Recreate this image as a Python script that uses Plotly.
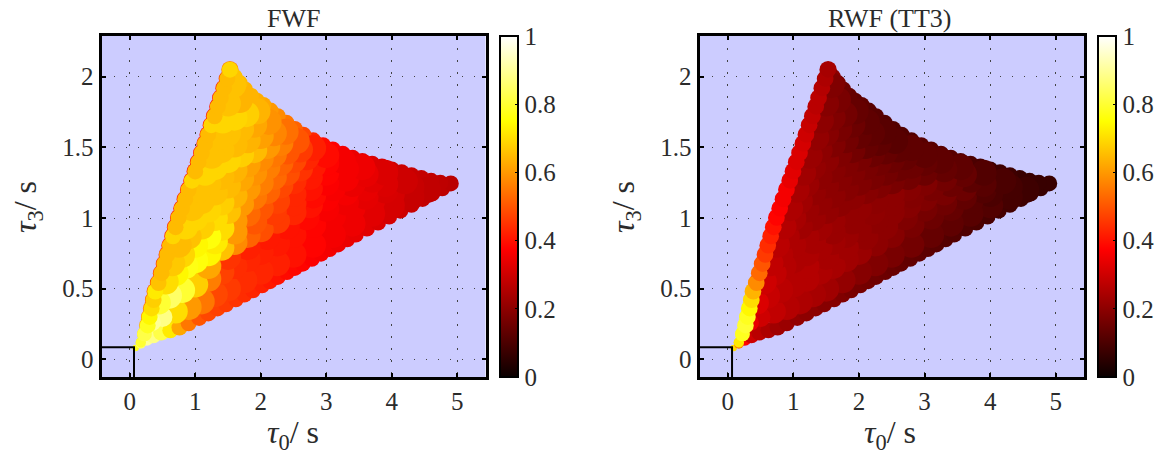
import numpy as np
import plotly.graph_objects as go

# Template bank points (rows run up and to the right).
# Filling points, drawn over the rim with the larger dot.
inner_tau0 = [
    .35,.5,.7,.9,1.1,1.3,1.5,1.75,2,2.25,2.5,2.8,3.1,3.4,3.7,4,4.3,4.55,
    .45,.6,.8,1,1.2,1.4,1.6,1.8,2,2.25,2.5,2.8,3.1,3.4,3.7,4,4.3,
    1.2,1.5,1.8,2.1,2.4,2.7,3,3.3,3.6,3.9,
    .55,.7,.85,1,1.2,1.4,1.6,1.8,2,2.25,2.5,2.75,3,3.3,3.6,3.9,4.2,
    1.3,1.6,1.9,2.2,2.5,2.8,3.1,3.4,3.7,
    .65,.8,1,1.2,1.4,1.6,1.8,2,2.25,2.5,2.75,3,3.3,3.6,3.9,
    .75,.9,1.1,1.3,1.5,1.7,1.9,2.1,2.3,2.5,2.75,3,3.3,3.55,
    .85,1,1.2,1.4,1.6,1.8,2,2.2,2.4,2.6,2.8,3,3.25,
    .95,1.1,1.3,1.5,1.7,1.9,2.1,2.3,2.5,2.7,3,
    1.05,1.2,1.4,1.6,1.8,2,2.2,2.4,2.6,2.8,
    1.15,1.3,1.5,1.7,1.9,2.1,2.3,2.55,
    1.25,1.4,1.6,1.8,2,2.2,2.38,
    1.35,1.5,1.7,1.9,2.12,
    1.42,1.6,1.78,1.95,
    1.5,1.68,
    1.58,
]
inner_tau3 = [
    .26,.30,.34,.37,.41,.46,.50,.56,.62,.68,.74,.81,.88,.96,1.03,1.09,1.15,1.20,
    .40,.45,.49,.53,.57,.62,.66,.71,.76,.82,.88,.95,1.01,1.07,1.12,1.17,1.22,
    .66,.725,.795,.865,.94,1.005,1.065,1.11,1.15,1.195,
    .55,.61,.66,.70,.75,.79,.83,.88,.92,.98,1.04,1.09,1.14,1.18,1.21,1.24,1.26,
    .835,.905,.975,1.04,1.105,1.16,1.21,1.24,1.27,
    .68,.74,.81,.87,.93,.98,1.03,1.07,1.12,1.17,1.21,1.25,1.28,1.31,1.32,
    .81,.87,.94,1.0,1.05,1.10,1.15,1.19,1.23,1.26,1.29,1.32,1.345,1.36,
    .94,1.0,1.06,1.11,1.16,1.21,1.25,1.29,1.32,1.35,1.37,1.39,1.405,
    1.07,1.12,1.18,1.23,1.28,1.32,1.36,1.39,1.41,1.43,1.445,
    1.20,1.24,1.29,1.34,1.38,1.42,1.45,1.47,1.485,1.495,
    1.32,1.36,1.41,1.45,1.48,1.51,1.53,1.545,
    1.44,1.48,1.52,1.55,1.58,1.60,1.61,
    1.57,1.60,1.63,1.66,1.68,
    1.69,1.71,1.735,1.755,
    1.81,1.835,
    1.94,
]
inner_fwf = [
    .90,.88,.70,.60,.55,.48,.46,.44,.43,.42,.40,.38,.36,.35,.33,.31,.29,.28,
    .80,.85,.80,.68,.56,.47,.44,.43,.42,.41,.40,.38,.36,.35,.33,.31,.29,
    .62,.45,.42,.41,.40,.385,.365,.35,.335,.315,
    .70,.74,.77,.76,.74,.66,.58,.52,.49,.46,.43,.40,.37,.36,.34,.32,.30,
    .72,.60,.50,.46,.43,.39,.365,.345,.33,
    .67,.69,.74,.76,.70,.60,.53,.50,.47,.43,.40,.37,.36,.34,.32,
    .65,.66,.68,.70,.66,.60,.55,.52,.48,.44,.41,.38,.36,.35,
    .69,.69,.69,.68,.64,.60,.56,.53,.49,.45,.41,.38,.36,
    .66,.66,.66,.65,.62,.59,.56,.52,.48,.43,.39,
    .66,.66,.65,.64,.61,.58,.55,.50,.46,.42,
    .69,.69,.69,.68,.65,.60,.56,.50,
    .66,.66,.65,.64,.61,.57,.54,
    .66,.66,.65,.62,.59,
    .69,.69,.68,.64,
    .66,.64,
    .66,
]
inner_rwf = [
    .34,.30,.28,.26,.25,.24,.23,.21,.19,.18,.17,.16,.14,.13,.12,.11,.09,.08,
    .32,.29,.27,.26,.26,.25,.24,.23,.22,.20,.19,.17,.15,.14,.12,.10,.09,
    .26,.24,.23,.21,.20,.18,.165,.155,.135,.11,
    .30,.28,.26,.25,.25,.24,.23,.22,.21,.20,.20,.19,.18,.17,.15,.12,.10,
    .24,.22,.21,.205,.20,.185,.17,.15,.125,
    .28,.26,.25,.24,.23,.22,.21,.21,.20,.20,.19,.18,.16,.14,.11,
    .27,.25,.23,.22,.21,.20,.20,.19,.18,.17,.16,.15,.14,.13,
    .26,.24,.22,.21,.20,.19,.18,.17,.16,.15,.15,.14,.13,
    .25,.23,.21,.20,.19,.18,.17,.16,.15,.14,.13,
    .24,.22,.20,.19,.18,.17,.15,.14,.13,.13,
    .23,.21,.20,.18,.16,.14,.13,.12,
    .22,.20,.18,.16,.14,.13,.12,
    .21,.19,.17,.15,.13,
    .20,.18,.16,.14,
    .19,.17,
    .18,
]
# how many of the points above belong to each row
row_lengths = [18, 17, 10, 17, 9, 15, 14, 13, 11, 10, 8, 7, 5, 4, 2, 1]

# Rim of the bank under the filling: lower edge, then upper right edge.
rim_tau0 = [
    .09,.17,.26,.36,.48,.62,.76,.90,1.06,1.2,1.34,1.47,1.62,1.75,1.88,2.02,2.14,2.26,
    2.4,2.52,2.64,2.78,2.92,3.05,3.18,3.32,3.45,3.62,3.79,3.96,4.13,4.3,4.47,4.62,4.77,4.9,
    4.74,4.6,4.45,4.3,4.15,4.0,3.85,3.7,3.55,3.4,3.25,3.1,2.95,2.8,2.65,2.52,2.39,2.26,
    2.15,2.04,1.94,1.85,1.76,1.68,1.6,
]
rim_tau3 = [
    .08,.11,.145,.17,.19,.205,.225,.255,.293,.325,.36,.39,.425,.458,.489,.524,.553,.583,
    .618,.647,.677,.712,.748,.78,.813,.85,.883,.925,.968,1.01,1.052,1.093,1.135,1.175,1.21,1.245,
    1.25,1.263,1.283,1.303,1.324,1.344,1.364,1.384,1.404,1.427,1.455,1.485,1.515,1.55,1.59,1.63,1.675,1.72,
    1.76,1.80,1.83,1.865,1.91,1.955,2.0,
]
rim_fwf = [
    .78,.86,.90,.88,.82,.72,.62,.55,.50,.48,.47,.46,.45,.44,.43,.42,.41,.40,
    .39,.385,.38,.37,.365,.36,.35,.345,.34,.33,.32,.31,.30,.29,.285,.28,.275,.27,
    .275,.28,.285,.29,.295,.30,.31,.32,.33,.345,.36,.375,.39,.43,.48,.52,.55,.58,
    .60,.62,.63,.64,.64,.65,.66,
]
rim_rwf = [
    .70,.55,.38,.30,.27,.25,.23,.22,.21,.20,.20,.19,.19,.18,.17,.165,.16,.155,
    .15,.145,.14,.135,.13,.125,.12,.115,.11,.105,.10,.095,.09,.085,.08,.075,.07,.07,
    .07,.07,.07,.08,.08,.08,.09,.10,.11,.12,.12,.12,.12,.11,.11,.11,.11,.12,
    .12,.13,.13,.14,.15,.17,.20,
]

# Left edge, drawn last from the bottom corner up to the tip.
left_tau0 = [
    .17,.225,.275,.305,.335,.365,.39,.44,.486,.53,.573,.615,.66,.70,.747,.797,
    .848,.90,.95,1.0,1.05,1.10,1.15,1.197,1.246,1.295,1.346,1.39,1.44,1.49,1.53,
]
left_tau3 = [
    .12,.18,.24,.30,.36,.42,.48,.54,.61,.675,.74,.805,.871,.935,1.002,1.067,
    1.133,1.2,1.264,1.33,1.395,1.46,1.526,1.59,1.657,1.72,1.788,1.85,1.919,1.985,2.05,
]
left_fwf = [
    .80,.82,.78,.74,.70,.68,.72,.66,.65,.65,.65,.65,.69,.65,.65,.65,
    .65,.65,.69,.65,.65,.65,.65,.65,.69,.65,.65,.65,.65,.65,.69,
]
left_rwf = [
    .72,.78,.80,.78,.74,.70,.64,.58,.53,.50,.46,.44,.42,.40,.38,.37,
    .36,.36,.34,.33,.32,.32,.31,.30,.29,.28,.27,.27,.26,.25,.24,
]
# the thin darker line that peeks out along the left edge of the FWF panel
edge_fwf = [
    .74,.70,.64,.60,.56,.54,.52,.50,.48,.47,.46,.45,.44,.44,.44,.43,
    .43,.43,.42,.42,.42,.42,.42,.42,.42,.42,.42,.43,.44,.48,.58,
]
assert len(inner_tau0) == len(inner_tau3) == len(inner_fwf) == len(inner_rwf) == sum(row_lengths), (
    len(inner_tau0), len(inner_tau3), len(inner_fwf), len(inner_rwf), sum(row_lengths))
assert len(rim_tau0) == len(rim_tau3) == len(rim_fwf) == len(rim_rwf), (
    len(rim_tau0), len(rim_tau3), len(rim_fwf), len(rim_rwf))
assert len(left_tau0) == len(left_tau3) == len(left_fwf) == len(left_rwf) == len(edge_fwf), (
    len(left_tau0), len(left_tau3), len(left_fwf), len(left_rwf), len(edge_fwf))

# Corner box at the origin
box_tau0 = [-0.43, 0.066, 0.066]
box_tau3 = [0.085, 0.085, -0.125]

x_ticks = [0, 1, 2, 3, 4, 5]
y_ticks = [0, 0.5, 1, 1.5, 2]
y_labels = ["0", "0.5", "1", "1.5", "2"]
cbar_ticks = [0, 0.2, 0.4, 0.6, 0.8, 1]
cbar_labels = ["0", "0.2", "0.4", "0.6", "0.8", "1"]

W, H = 1168, 454
FONT = "Liberation Serif"
TEXT = "#2b2b2b"
# matlab's hot
HOT = [[0, "#0a0000"], [0.375, "#ff0000"], [0.75, "#ffff00"], [1, "#ffffff"]]

# each row paints right to left, so its left end lands on top as a round cap
draw_order = []
start = 0
for n in row_lengths:
    draw_order += list(range(start + n - 1, start - 1, -1))
    start += n


def dot_sizes(t0, t3, r_max, growth):
    # dots shrink into the narrow corner at the origin
    d = np.hypot((np.array(t0) - 0.07) * 65.5, (np.array(t3) - 0.06) * 141.3)
    return 2 * np.minimum(r_max, 2.5 + growth * d)


def dots(x, y, xa, ya, values, caxis, sizes):
    return go.Scatter(
        x=x, y=y, xaxis=xa, yaxis=ya, mode="markers",
        marker=dict(color=values, coloraxis=caxis, size=sizes, line_width=0, opacity=1),
        hoverinfo="skip"
    )


def add_panel(fig, xa, ya, inner, rim, left, edge, caxis):
    fig.add_trace(dots(left_tau0, left_tau3, xa, ya, edge, caxis, dot_sizes(left_tau0, left_tau3, 8.7, 0.25)))
    fig.add_trace(dots(rim_tau0, rim_tau3, xa, ya, rim, caxis, dot_sizes(rim_tau0, rim_tau3, 8, 0.25)))
    x = np.array(inner_tau0)[draw_order]
    y = np.array(inner_tau3)[draw_order]
    fig.add_trace(dots(x, y, xa, ya, np.array(inner)[draw_order], caxis, dot_sizes(x, y, 13, 0.17)))
    fig.add_trace(dots(left_tau0, left_tau3, xa, ya, left, caxis, dot_sizes(left_tau0, left_tau3, 8, 0.25)))
    fig.add_trace(go.Scatter(
        x=box_tau0, y=box_tau3, xaxis=xa, yaxis=ya, mode="lines",
        line=dict(color="black", width=2), hoverinfo="skip"
    ))


fig = go.Figure()
add_panel(fig, "x", "y", inner_fwf, rim_fwf, left_fwf, edge_fwf, "coloraxis")
add_panel(fig, "x2", "y2", inner_rwf, rim_rwf, left_rwf, left_rwf, "coloraxis2")


def x_axis(left, right, anchor):
    return dict(
        domain=[left / W, right / W], anchor=anchor, range=[-0.43, 5.43],
        tickvals=x_ticks, ticks="inside", ticklen=4, tickwidth=2, tickcolor="black",
        showline=True, linecolor="black", linewidth=3, mirror="ticks",
        showgrid=True, gridcolor="#444444", griddash="1.5px 10.5px", gridwidth=1,
        zeroline=False, tickfont=dict(family=FONT, size=25, color=TEXT),
    )


def y_axis(anchor):
    return dict(
        domain=[(H - 377) / H, (H - 36) / H], anchor=anchor, range=[-0.125, 2.288],
        tickvals=y_ticks, ticktext=y_labels, ticks="inside", ticklen=4, tickwidth=2, tickcolor="black",
        showline=True, linecolor="black", linewidth=3, mirror="ticks",
        showgrid=True, gridcolor="#444444", griddash="1.5px 10.5px", gridwidth=1,
        zeroline=False, tickfont=dict(family=FONT, size=25, color=TEXT),
    )


def color_axis(left):
    return dict(
        colorscale=HOT, cmin=0, cmax=1,
        colorbar=dict(
            x=left / W, xanchor="left", xpad=0, ypad=0, thickness=18,
            lenmode="pixels", len=341, y=(H - 377) / H, yanchor="bottom",
            outlinecolor="black", outlinewidth=2,
            tickvals=cbar_ticks, ticktext=cbar_labels, ticks="inside", ticklen=4,
            tickcolor="black", tickwidth=1,
            tickfont=dict(family=FONT, size=25, color=TEXT),
        ),
    )


def label(text, x, y, size=24, angle=0):
    return dict(
        text=text, x=x / W, y=1 - y / H, xref="paper", yref="paper", showarrow=False,
        textangle=angle, xanchor="center", yanchor="middle",
        font=dict(family=FONT, size=size, color=TEXT),
    )


fig.update_layout(
    width=W, height=H, margin=dict(l=0, r=0, t=0, b=0),
    paper_bgcolor="white", plot_bgcolor="#ccccff", showlegend=False,
    xaxis=x_axis(101.5, 485.5, "y"), yaxis=y_axis("x"),
    xaxis2=x_axis(699.5, 1084, "y2"), yaxis2=y_axis("x2"),
    coloraxis=color_axis(500), coloraxis2=color_axis(1098),
    annotations=[
        label("FWF", 293, 19, 26),
        label("RWF (TT3)", 890, 19, 26),
        label("<i>τ</i><sub>0</sub>/ s", 293, 434, 32),
        label("<i>τ</i><sub>0</sub>/ s", 890, 434, 32),
        label("<i>τ</i><sub>3</sub>/ s", 27, 207, 32, -90),
        label("<i>τ</i><sub>3</sub>/ s", 625, 207, 32, -90),
    ],
)

# page margin off so the figure sits at the window corner
fig.write_html("out.html", config={"displayModeBar": False},
               post_script="document.body.style.margin = '0';")
